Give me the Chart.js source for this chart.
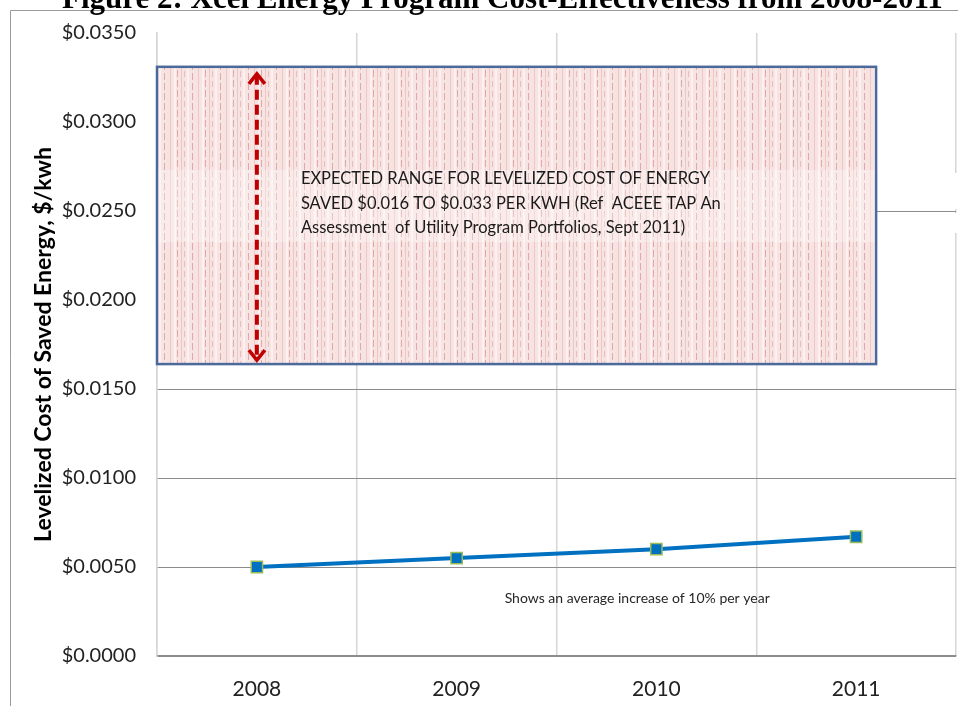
<!DOCTYPE html>
<html>
<head>
<meta charset="utf-8">
<title>Xcel Energy Program Cost-Effectiveness</title>
<script src="https://cdn.jsdelivr.net/npm/chart.js@4.4.1/dist/chart.umd.min.js"></script>
<style>
  html, body { margin: 0; padding: 0; background: #fff; }
  #wrap { width: 958px; height: 706px; }
</style>
</head>
<body>
<div id="wrap"><canvas id="costChart" width="958" height="706"></canvas></div>
<script>
const figure_title = "Figure 2: Xcel Energy Program Cost-Effectiveness from 2008-2011";
const years = ["2008", "2009", "2010", "2011"];
const cost_per_kwh = [0.0050, 0.0055, 0.0060, 0.0067];

// expected range band (ACEEE)
const range_low = 0.0164;
const range_high = 0.0331;
const range_note = [
  "EXPECTED RANGE FOR LEVELIZED COST OF ENERGY",
  "SAVED $0.016 TO $0.033 PER KWH (Ref  ACEEE TAP An",
  "Assessment  of Utility Program Portfolios, Sept 2011)",
];
const trend_note = "Shows an average increase of 10% per year";

// gridlines hidden behind / around the range box
const hidden_grid = [0.020, 0.030, 0.035];

const LABEL_FONT = "Lato, 'Open Sans', sans-serif";

// pinkish hatch fill for the range box
function makeHatch(ctx) {
  const tile = document.createElement("canvas");
  tile.width = 28;
  tile.height = 10;
  const t = tile.getContext("2d");
  t.fillStyle = "#f8e3e3";
  t.fillRect(0, 0, 28, 10);
  t.fillStyle = "#efc6c6";
  t.fillRect(2, 0, 1, 10);
  t.fillRect(13, 0, 1, 10);
  t.fillStyle = "#fcf0f0";
  t.fillRect(6, 0, 2, 10);
  t.fillRect(19, 0, 2, 10);
  t.fillStyle = "#e2a8a8";
  t.fillRect(9, 0, 1, 7);
  t.fillRect(24, 3, 1, 7);
  t.fillStyle = "#ebbcbc";
  t.fillRect(16, 1, 1, 6);
  return ctx.createPattern(tile, "repeat");
}

function arrowHead(ctx, x, y, dir) {
  ctx.beginPath();
  ctx.moveTo(x - 8, y - dir * 10);
  ctx.lineTo(x, y);
  ctx.lineTo(x + 8, y - dir * 10);
  ctx.stroke();
}

const decorations = {
  id: "decorations",
  beforeDraw(chart) {
    const ctx = chart.ctx;
    ctx.save();
    ctx.fillStyle = "#fff";
    ctx.fillRect(0, 0, chart.width, chart.height);
    // outer frame
    ctx.strokeStyle = "#9a9a9a";
    ctx.lineWidth = 1;
    ctx.beginPath();
    ctx.moveTo(10.5, chart.height);
    ctx.lineTo(10.5, 10.5);
    ctx.lineTo(chart.width, 10.5);
    ctx.stroke();
    // figure caption, sits partly above the page edge
    ctx.fillStyle = "#000";
    ctx.font = "bold 31px 'Liberation Serif', 'Times New Roman', serif";
    ctx.textAlign = "left";
    ctx.textBaseline = "alphabetic";
    ctx.fillText(figure_title, 62, 8, 884);
    ctx.restore();
  },
  beforeDatasetsDraw(chart) {
    const ctx = chart.ctx;
    const x = chart.scales.x;
    const y = chart.scales.y;
    const area = chart.chartArea;
    const left = area.left;
    const right = x.getPixelForValue(3.1);
    const top = y.getPixelForValue(range_high);
    const bottom = y.getPixelForValue(range_low);
    const mid = y.getPixelForValue(0.025);

    ctx.save();
    // the note's text frame breaks the right border
    ctx.fillStyle = "#fff";
    ctx.fillRect(area.right - 3, mid - 38, 6, 36);
    ctx.fillRect(area.right - 3, mid + 2, 6, 20);

    ctx.fillStyle = makeHatch(ctx);
    ctx.fillRect(left, top, right - left, bottom - top);

    // lighter band behind the note text
    ctx.fillStyle = "rgba(255,255,255,0.3)";
    ctx.fillRect(left + 1, mid - 41, right - left - 1, 72);

    ctx.strokeStyle = "#4a6a9c";
    ctx.lineWidth = 2.5;
    ctx.strokeRect(left, top, right - left, bottom - top);

    // double-headed dashed arrow across the range
    const ax = x.getPixelForValue(0);
    ctx.strokeStyle = "#c00000";
    ctx.lineWidth = 4;
    ctx.setLineDash([10, 5]);
    ctx.beginPath();
    ctx.moveTo(ax, top + 8);
    ctx.lineTo(ax, bottom - 6);
    ctx.stroke();
    ctx.setLineDash([]);
    ctx.lineWidth = 3.5;
    arrowHead(ctx, ax, top + 7, -1);
    arrowHead(ctx, ax, bottom - 4, 1);

    // range note
    ctx.fillStyle = "#1a1a1a";
    ctx.font = "16.5px " + LABEL_FONT;
    ctx.textAlign = "left";
    ctx.textBaseline = "middle";
    range_note.forEach((line, i) => {
      ctx.fillText(line, ax + 44, mid - 32 + i * 24.5);
    });

    // trend note under the line
    ctx.font = "14px " + LABEL_FONT;
    ctx.fillStyle = "#262626";
    ctx.fillText(trend_note, x.getPixelForValue(1) + 48, y.getPixelForValue(0.005) + 31);
    ctx.restore();
  },
};

const cost_data = {
  labels: years,
  datasets: [
    {
      label: "Levelized cost",
      data: cost_per_kwh,
      borderColor: "#0070c0",
      backgroundColor: "#0070c0",
      borderWidth: 4,
      tension: 0,
      pointStyle: "rect",
      pointRadius: 8,
      pointBackgroundColor: "#0070c0",
      pointBorderColor: "#9bbb59",
      pointBorderWidth: 1.5,
    },
  ],
};

const cost_config = {
  type: "line",
  data: cost_data,
  plugins: [decorations],
  options: {
    responsive: false,
    animation: false,
    layout: { autoPadding: false, padding: { left: 10, top: 32, right: 2, bottom: 0 } },
    plugins: {
      legend: { display: false },
      tooltip: { enabled: false },
      title: { display: false },
    },
    scales: {
      x: {
        offset: true,
        afterFit: (scale) => {
          scale.height = 50;
          scale.paddingLeft = 0;
          scale.paddingRight = 0;
        },
        grid: { offset: true, color: "#d6d6d6", lineWidth: 1.5, drawTicks: false },
        border: { color: "#8c8c8c", width: 1.5 },
        ticks: { color: "#222", padding: 21, font: { family: LABEL_FONT, size: 21 } },
      },
      y: {
        min: 0,
        max: 0.035,
        afterFit: (scale) => { scale.width = 147; },
        grid: {
          drawTicks: false,
          color: (c) => (c.tick && hidden_grid.some((v) => Math.abs(v - c.tick.value) < 1e-6) ? "rgba(0,0,0,0)" : "#8c8c8c"),
          lineWidth: 1,
        },
        border: { color: "#d6d6d6", width: 1.5 },
        ticks: {
          stepSize: 0.005,
          color: "#222",
          padding: 21,
          font: { family: LABEL_FONT, size: 20 },
          callback: (v) => "$" + Number(v).toFixed(4),
        },
        title: {
          display: true,
          text: "Levelized Cost of Saved Energy, $/kwh",
          color: "#000",
          font: { family: LABEL_FONT, size: 23, weight: "bold" },
          padding: { top: 20, bottom: 0 },
        },
      },
    },
  },
};

var costChart = new Chart(document.getElementById("costChart"), cost_config);
</script>
</body>
</html>
